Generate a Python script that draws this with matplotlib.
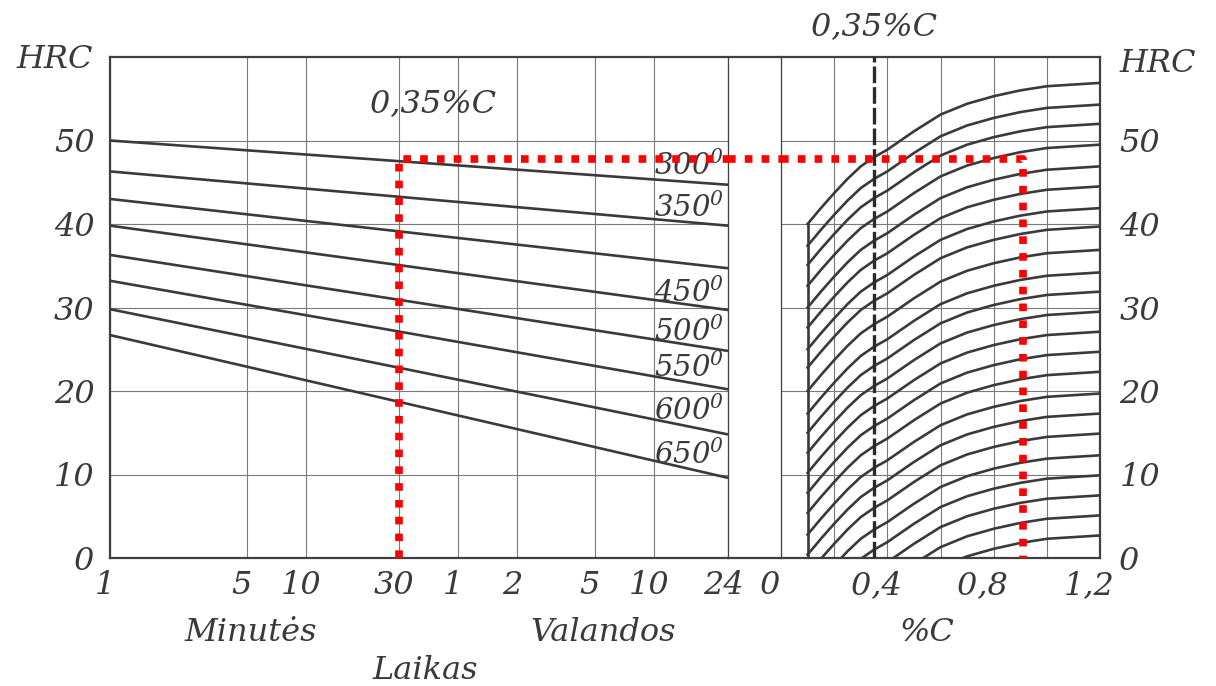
import numpy as np
import matplotlib.pyplot as plt
import matplotlib.transforms as mtransforms
from matplotlib.ticker import NullLocator

plt.rcParams['font.family'] = ['DejaVu Serif']
plt.rcParams['font.style'] = 'italic'
plt.rcParams['mathtext.fontset'] = 'custom'
plt.rcParams['mathtext.rm'] = 'DejaVu Serif:italic'
plt.rcParams['mathtext.it'] = 'DejaVu Serif:italic'

# tempering lines: HRC after 1 min and after 24 h at each temperature
temps = [300, 350, 400, 450, 500, 550, 600, 650]
line_times = [1, 1440]  # minutes
hrc_1min = [50.0, 46.3, 43.0, 39.8, 36.3, 33.2, 29.8, 26.7]
hrc_24h = [44.7, 39.8, 34.7, 29.7, 24.8, 20.2, 14.8, 9.6]

time_ticks = [1, 5, 10, 30, 60, 120, 300, 600, 1440]
time_labels = ['1', '5', '10', '30', '1', '2', '5', '10', '24']

# carbon panel: shape of the top curve, and where every curve ends at 1,2 %C
top_c = [0.1, 0.15, 0.2, 0.25, 0.3, 0.35, 0.4, 0.5, 0.6, 0.7, 0.8, 0.9, 1.0, 1.1, 1.2]
top_hrc = [40.0, 41.9, 43.7, 45.4, 46.9, 48.0, 48.9, 51.1, 53.1, 54.4, 55.3, 56.0, 56.5, 56.7, 56.9]
hrc_at_12 = [56.9, 54.3, 52.0, 49.5, 46.9, 44.5, 41.9, 39.7, 36.9, 34.2, 31.9, 29.5,
             27.1, 24.7, 22.3, 19.7, 17.3, 14.9, 12.3, 9.9, 7.5, 5.1, 2.7]

c_ticks = [0, 0.2, 0.4, 0.6, 0.8, 1.0, 1.2]
c_labels = ['0', '', '0,4', '', '0,8', '', '1,2']
hrc_ticks = [0, 10, 20, 30, 40, 50]

# worked example (red path)
read_time = 30
read_hrc = 47.8
read_c = 0.91
mark_c = 0.35

ink = '#3a3a3a'
grid_c = '#7a7a7a'
fs = 23

fig = plt.figure(figsize=(12.16, 6.86), dpi=100)
bot, hgt = 1 - 558 / 686, 501 / 686
ax_l = fig.add_axes([110 / 1216, bot, 618 / 1216, hgt])
ax_g = fig.add_axes([728 / 1216, bot, 53 / 1216, hgt])
ax_r = fig.add_axes([781 / 1216, bot, 319 / 1216, hgt])

for ax in (ax_l, ax_g, ax_r):
    ax.set_ylim(0, 60)
    for s in ax.spines.values():
        s.set_color('#404040')
        s.set_linewidth(1.6)
ax_g.patch.set_visible(False)

# left panel
ax_l.set_xscale('log')
ax_l.set_xlim(1, 1440)
ax_l.set_xticks(time_ticks, time_labels)
ax_l.xaxis.set_minor_locator(NullLocator())
ax_l.set_yticks(hrc_ticks, [str(v) for v in hrc_ticks])
ax_l.grid(True, color=grid_c, lw=0.8)
ax_l.spines['right'].set_linewidth(0.9)
ax_l.tick_params(axis='both', length=0, labelsize=fs, labelcolor=ink)
ax_l.tick_params(axis='y', pad=11)
ax_l.tick_params(axis='x', pad=9)

for t, a, b in zip(temps, hrc_1min, hrc_24h):
    ax_l.plot(line_times, [a, b], color=ink, lw=1.9, solid_capstyle='butt', zorder=3)

label_temps = [300, 350, 450, 500, 550, 600, 650]
label_base = [45.9, 40.8, 30.7, 26.0, 21.7, 16.5, 11.2]
for t, yb in zip(label_temps, label_base):
    ax_l.text(600, yb, '$%d^{0}$' % t, fontsize=21, color=ink, ha='left', va='baseline',
              zorder=4, clip_on=False)

ax_l.text(45, 53.4, '0,35%C', fontsize=fs, color=ink, ha='center', va='baseline')

# gap strip
ax_g.set_xlim(0, 1)
ax_g.set_xticks([])
ax_g.set_yticks([])
ax_g.spines['left'].set_visible(False)
ax_g.spines['right'].set_visible(False)

# right panel
ax_r.set_xlim(0, 1.2)
ax_r.set_xticks(c_ticks, c_labels)
ax_r.set_yticks(hrc_ticks, [str(v) for v in hrc_ticks])
ax_r.yaxis.tick_right()
ax_r.grid(True, color=grid_c, lw=0.8)
ax_r.spines['left'].set_linewidth(0.9)
ax_r.tick_params(axis='both', length=0, labelsize=fs, labelcolor=ink)
ax_r.tick_params(axis='y', pad=14)
ax_r.tick_params(axis='x', pad=9)

shift = top_hrc[-1]
for v in hrc_at_12:
    ax_r.plot(top_c, np.array(top_hrc) + (v - shift), color=ink, lw=1.9, zorder=3)
ax_r.plot([top_c[0], top_c[0]], [0, top_hrc[0]], color=ink, lw=1.9, zorder=3)
ax_r.axvline(mark_c, color='#2a2a2a', lw=2.4, linestyle=(0, (5, 1.2)), zorder=4)

# red reading path
red = dict(color='#ff0000', lw=5.5, linestyle=(0, (1.0, 1.2)), dash_capstyle='butt', zorder=6)
ax_l.plot([read_time, read_time, 1440], [0, read_hrc, read_hrc], **red)
ax_g.plot([0, 1], [read_hrc, read_hrc], **red)
ax_r.plot([0, read_c, read_c], [read_hrc, read_hrc, 0], **red)

# nudge x tick labels a little left, like the scan
for ax, dx in ((ax_l, -3.5), (ax_r, -8)):
    off = mtransforms.ScaledTranslation(dx / 72, 0, fig.dpi_scale_trans)
    for lab in ax.get_xticklabels():
        lab.set_transform(lab.get_transform() + off)

# axis titles
ax_l.annotate('HRC', xy=(0, 1), xycoords='axes fraction', xytext=(-12, -8),
              textcoords='offset points', ha='right', va='baseline', fontsize=fs, color=ink)
ax_r.annotate('HRC', xy=(1, 1), xycoords='axes fraction', xytext=(14, -11),
              textcoords='offset points', ha='left', va='baseline', fontsize=fs, color=ink)
ax_r.annotate('0,35%C', xy=(mark_c, 1), xycoords=('data', 'axes fraction'), xytext=(0, 16),
              textcoords='offset points', ha='center', va='baseline', fontsize=fs, color=ink)
for ax, fx, dy, txt in ((ax_l, 0.228, -60, 'Minutės'), (ax_l, 0.798, -60, 'Valandos'),
                        (ax_l, 0.51, -87, 'Laikas'), (ax_r, 0.458, -60, '%C')):
    ax.annotate(txt, xy=(fx, 0), xycoords='axes fraction', xytext=(0, dy),
                textcoords='offset points', ha='center', va='baseline', fontsize=fs, color=ink)

fig.savefig('out.png', dpi=100)
